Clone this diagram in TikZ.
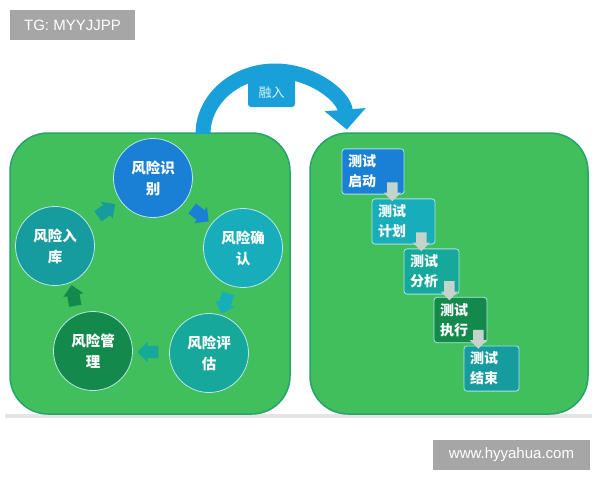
\documentclass[tikz,border=0pt]{standalone}
\usepackage{fontspec}
\setmainfont{Liberation Sans}
\newfontfamily\cjk{Noto Sans CJK SC}
\usetikzlibrary{shapes.arrows,arrows.meta,calc}
\definecolor{panelgreen}{HTML}{40BF5C}
\definecolor{paneledge}{HTML}{27A36B}
\definecolor{cblue}{HTML}{1A80D6}
\definecolor{cteal}{HTML}{18ADBA}
\definecolor{cteal2}{HTML}{17A89C}
\definecolor{cdark}{HTML}{138A4C}
\definecolor{cteal3}{HTML}{169B9E}
\definecolor{arcblue}{HTML}{1AA0D8}
\definecolor{wmgray}{HTML}{A6A6A6}
\definecolor{garrow}{HTML}{C4D3CC}
\tikzset{
  panel/.style={draw=paneledge,line width=1.5pt,fill=panelgreen,rounded corners=38pt},
  ring/.style={circle,minimum size=79pt,inner sep=0pt,draw=white!70!cteal,line width=0.8pt,
     text=white,align=center,font=\cjk\bfseries\fontsize{14.5}{21}\selectfont},
  blockarrow/.style={single arrow,minimum height=21pt,inner sep=6pt,
     single arrow head extend=4pt,draw=none},
  stepbox/.style={rectangle,rounded corners=3pt,draw=white!65!cteal,line width=0.8pt,
     text=white,align=left,inner sep=6pt,anchor=center,
     font=\cjk\bfseries\fontsize{14}{20}\selectfont},
  downarrow/.style={single arrow,fill=garrow,shape border rotate=270,minimum height=19pt,
     inner sep=5pt,single arrow head extend=3.5pt,draw=none},
  wm/.style={fill=wmgray,text=white,inner sep=0pt,font=\fontsize{15}{18}\selectfont}
}
\begin{document}
\begin{tikzpicture}[x=1pt,y=-1pt]
\useasboundingbox (0,0) rectangle (600,480);
\fill[white] (0,0) rectangle (600,480);
% watermarks
\node[wm,minimum width=125pt,minimum height=30pt] (tg) at (72.5,25) {TG: MYYJJPP};
\node[wm,minimum width=157pt,minimum height=30pt] (www) at (511.5,455) {www.hyyahua.com};
% baseline shadow
\fill[black!10] (5,414) rectangle (592,418);
% panels
\draw[panel] (10,133) rectangle (290,414);
\draw[panel] (310,133) rectangle (588,414);
% arc arrow
\coordinate (arcstart) at (203,134);
\draw[arcblue,line width=15pt,-{Triangle[length=20pt,width=40pt]}]
  (arcstart) arc[start angle=180,end angle=356,x radius=72,y radius=63];
\node[fill=arcblue,rounded corners=3pt,minimum width=47pt,minimum height=29pt,inner sep=0pt,
  text=white!85!arcblue,font=\cjk\fontsize{13}{16}\selectfont] (rong) at (271.5,92.5) {融入};
% circles
\node[ring,fill=cblue] (c1) at (153,178) {风险识\\别};
\node[ring,fill=cteal] (c2) at (243,248) {风险确\\认};
\node[ring,fill=cteal2] (c3) at (209,353) {风险评\\估};
\node[ring,fill=cdark] (c4) at (93,351) {风险管\\理};
\node[ring,fill=cteal3] (c5) at (55,246) {风险入\\库};
% block arrows
\node[blockarrow,fill=cteal3,rotate=35] (a51) at ($(c5)!0.5!(c1)$) {};
\node[blockarrow,fill=cblue,rotate=-38] (a12) at ($(c1)!0.5!(c2)$) {};
\node[blockarrow,fill=cteal,rotate=-108] (a23) at ($(c2)!0.5!(c3)$) {};
\node[blockarrow,fill=cteal2,rotate=180] (a34) at ($(c3)!0.5!(c4)$) {};
\node[blockarrow,fill=cdark,rotate=100] (a45) at ($(c4)!0.5!(c5)$) {};
% steps
\node[stepbox,fill=cblue,minimum width=62pt,minimum height=43pt,text width=50pt] (s1) at (373,171.5) {测试\\启动};
\node[stepbox,fill=cteal,minimum width=63pt,minimum height=43pt,text width=51pt] (s2) at (403.5,221.5) {测试\\计划};
\node[stepbox,fill=cteal2,minimum width=55pt,minimum height=43pt,text width=43pt] (s3) at (431.5,271.5) {测试\\分析};
\node[stepbox,fill=cdark,minimum width=53pt,minimum height=44pt,text width=41pt] (s4) at (460.5,320) {测试\\执行};
\node[stepbox,fill=cteal3,minimum width=55pt,minimum height=43pt,text width=43pt] (s5) at (491.5,368.5) {测试\\结束};
% gray down arrows
\node[downarrow,anchor=tip] (d1) at ($(s1.south east)+(-12,7)$) {};
\node[downarrow,anchor=tip] (d2) at ($(s2.south east)+(-14,7)$) {};
\node[downarrow,anchor=tip] (d3) at ($(s3.south east)+(-10,6)$) {};
\node[downarrow,anchor=tip] (d4) at ($(s4.south east)+(-9,6)$) {};
\end{tikzpicture}
\end{document}
